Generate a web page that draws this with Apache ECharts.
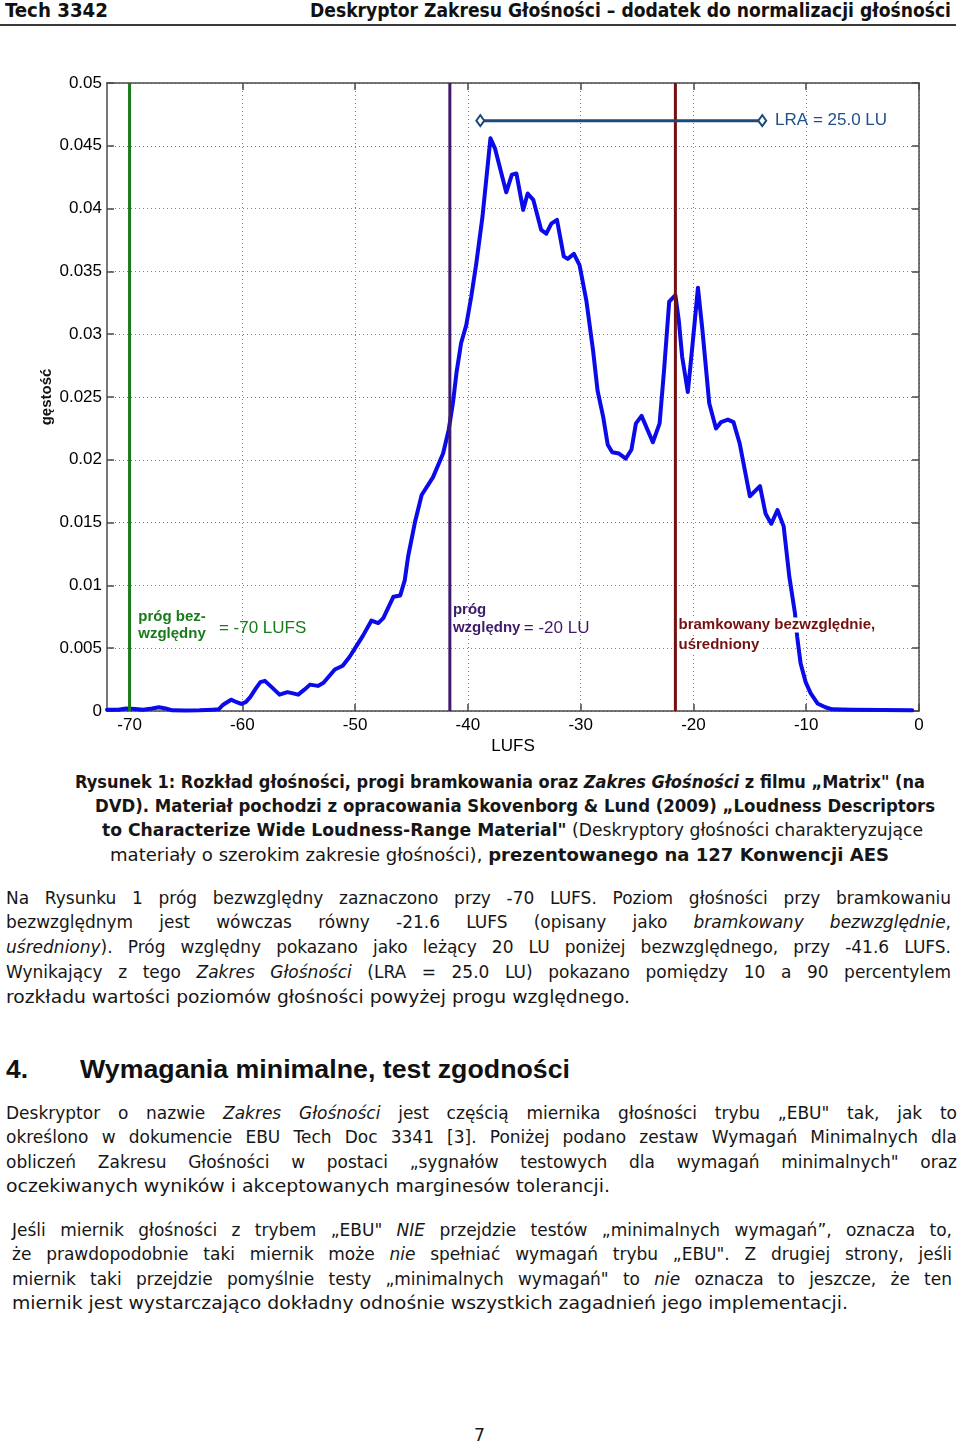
<!DOCTYPE html>
<html lang="pl">
<head>
<meta charset="utf-8">
<title>Tech 3342 – Deskryptor Zakresu Głośności</title>
<script src="https://cdn.jsdelivr.net/npm/echarts@6.0.0/dist/echarts.min.js"></script>
<style>
html,body{margin:0;padding:0;background:#fff;}
body{width:960px;height:1444px;position:relative;overflow:hidden;color:#161616;}
#chart{position:absolute;left:0;top:40px;width:960px;height:730px;}
.ln{position:absolute;white-space:nowrap;line-height:1.25;}
.ln>span{display:inline-block;transform-origin:0 50%;}
.hdr{font-family:"DejaVu Sans Condensed","DejaVu Sans",sans-serif;font-weight:bold;font-size:19px;color:#111;}
.cap{font-family:"DejaVu Sans Condensed","DejaVu Sans",sans-serif;font-size:18px;}
.body{font-family:"DejaVu Sans",sans-serif;font-size:17px;}
.h1{font-family:"Liberation Sans",Arial,sans-serif;font-weight:bold;font-size:26px;color:#111;}
#rule{position:absolute;left:0;top:24px;width:956px;height:2px;background:#3a3a3a;}
</style>
</head>
<body>
<div class="ln hdr" data-l="5" data-r="108" data-y="11" data-m="s"><span>Tech 3342</span></div>
<div class="ln hdr" data-l="310" data-r="951" data-y="11" data-m="s"><span>Deskryptor Zakresu Głośności – dodatek do normalizacji głośności</span></div>
<div id="rule"></div>

<div id="chart"></div>

<div class="ln cap" data-l="75" data-r="925" data-y="782" data-m="s"><span><b>Rysunek 1: Rozkład głośności, progi bramkowania oraz <i>Zakres Głośności</i> z filmu „Matrix" (na</b></span></div>
<div class="ln cap" data-l="95" data-r="935" data-y="806" data-m="s"><span><b>DVD). Materiał pochodzi z opracowania Skovenborg &amp; Lund (2009) „Loudness Descriptors</b></span></div>
<div class="ln cap" data-l="102" data-r="923" data-y="830" data-m="s"><span><b>to Characterize Wide Loudness-Range Material"</b> (Deskryptory głośności charakteryzujące</span></div>
<div class="ln cap" data-l="110" data-r="889" data-y="855" data-m="s"><span>materiały o szerokim zakresie głośności), <b>prezentowanego na 127 Konwencji AES</b></span></div>

<div class="ln body" data-l="6" data-r="951" data-y="899" data-m="j"><span>Na Rysunku 1 próg bezwzględny zaznaczono przy -70 LUFS. Poziom głośności przy bramkowaniu</span></div>
<div class="ln body" data-l="6" data-r="951" data-y="923" data-m="j"><span>bezwzględnym jest wówczas równy -21.6 LUFS (opisany jako <i>bramkowany bezwzględnie</i>,</span></div>
<div class="ln body" data-l="6" data-r="951" data-y="948" data-m="j"><span><i>uśredniony</i>). Próg względny pokazano jako leżący 20 LU poniżej bezwzględnego, przy -41.6 LUFS.</span></div>
<div class="ln body" data-l="6" data-r="951" data-y="973" data-m="j"><span>Wynikający z tego <i>Zakres Głośności</i> (LRA = 25.0 LU) pokazano pomiędzy 10 a 90 percentylem</span></div>
<div class="ln body" data-l="6" data-r="630" data-y="998" data-m="s"><span>rozkładu wartości poziomów głośności powyżej progu względnego.</span></div>

<div class="ln h1" data-l="6" data-r="28" data-y="1069" data-m="s"><span>4.</span></div>
<div class="ln h1" data-l="80" data-r="570" data-y="1069" data-m="s"><span>Wymagania minimalne, test zgodności</span></div>

<div class="ln body" data-l="6" data-r="957" data-y="1114" data-m="j"><span>Deskryptor o nazwie <i>Zakres Głośności</i> jest częścią miernika głośności trybu „EBU" tak, jak to</span></div>
<div class="ln body" data-l="6" data-r="957" data-y="1138" data-m="j"><span>określono w dokumencie EBU Tech Doc 3341 [3]. Poniżej podano zestaw Wymagań Minimalnych dla</span></div>
<div class="ln body" data-l="6" data-r="957" data-y="1163" data-m="j"><span>obliczeń Zakresu Głośności w postaci „sygnałów testowych dla wymagań minimalnych" oraz</span></div>
<div class="ln body" data-l="6" data-r="610" data-y="1187" data-m="s"><span>oczekiwanych wyników i akceptowanych marginesów tolerancji.</span></div>

<div class="ln body" data-l="12" data-r="952" data-y="1231" data-m="j"><span>Jeśli miernik głośności z trybem „EBU" <i>NIE</i> przejdzie testów „minimalnych wymagań”, oznacza to,</span></div>
<div class="ln body" data-l="12" data-r="952" data-y="1255" data-m="j"><span>że prawdopodobnie taki miernik może <i>nie</i> spełniać wymagań trybu „EBU". Z drugiej strony, jeśli</span></div>
<div class="ln body" data-l="12" data-r="952" data-y="1280" data-m="j"><span>miernik taki przejdzie pomyślnie testy „minimalnych wymagań" to <i>nie</i> oznacza to jeszcze, że ten</span></div>
<div class="ln body" data-l="12" data-r="848" data-y="1304" data-m="s"><span>miernik jest wystarczająco dokładny odnośnie wszystkich zagadnień jego implementacji.</span></div>

<div class="ln body" data-l="474" data-r="485" data-y="1436" data-m="s"><span>7</span></div>

<script>
// ---------- data ----------
const xTicks = [-70, -60, -50, -40, -30, -20, -10, 0];
const lufs = [
  -72, -71, -70.3, -69.5, -68.8, -68.0, -67.4, -66.8, -66.2, -65.0, -63.8, -62.6, -62.1,
  -61.7, -61.0, -60.5, -60.1, -59.7, -59.3, -58.8, -58.4, -58.0, -57.4, -56.7, -56.0,
  -55.5, -55.05, -54.5, -54.0, -53.3, -52.8, -51.8, -51.1, -50.5, -50.0, -49.3, -48.55,
  -47.95, -47.5, -46.6, -46.0, -45.6, -45.3, -44.7, -44.1, -43.1, -42.2, -41.7, -41.33,
  -41.0, -40.6, -40.15, -39.7, -39.26, -38.7, -38.0, -37.6, -36.6, -36.1, -35.7, -35.1,
  -34.7, -34.2, -33.5, -33.05, -32.6, -32.1, -31.5, -31.15, -30.6, -30.1, -29.5, -28.9,
  -28.5, -28.0, -27.6, -27.2, -26.6, -26.0, -25.5, -25.1, -24.6, -23.6, -23.0, -22.6,
  -22.15, -21.6, -21.3, -21.0, -20.5, -20.1, -19.6, -19.2, -18.6, -18.0, -17.55, -16.95,
  -16.45, -15.9, -15.0, -14.1, -13.6, -13.1, -12.55, -12.0, -11.5, -11.0, -10.8, -10.5,
  -10.05, -9.6, -9.0, -8.3, -7.7, -5.9, -0.6
];
const density = [
  0.0001, 0.0001, 0.0002, 0.00015, 0.0001, 0.0002, 0.0003, 0.0002, 0.00005, 0.00003, 0.00005, 0.0001, 0.00013,
  0.0005, 0.0009, 0.0007, 0.00056, 0.0007, 0.0011, 0.0018, 0.0023, 0.0024, 0.0019, 0.0013, 0.0015,
  0.0014, 0.0013, 0.0017, 0.0021, 0.0020, 0.00225, 0.0033, 0.0036, 0.0043, 0.0050, 0.0060, 0.0072,
  0.0070, 0.0074, 0.0091, 0.0092, 0.0104, 0.0123, 0.0150, 0.0172, 0.0186, 0.0205, 0.0224, 0.0245,
  0.0270, 0.0293, 0.0307, 0.0330, 0.0356, 0.0394, 0.0456, 0.0448, 0.0413, 0.0427, 0.0428, 0.0399,
  0.0412, 0.0407, 0.0383, 0.0380, 0.0388, 0.0391, 0.0362, 0.0360, 0.0364, 0.0355, 0.0327, 0.0287,
  0.0255, 0.0234, 0.0212, 0.0206, 0.0205, 0.0201, 0.0208, 0.0229, 0.0235, 0.0214, 0.0229, 0.0272,
  0.0326, 0.0331, 0.0311, 0.0282, 0.0254, 0.0290, 0.0337, 0.0303, 0.0245, 0.0225, 0.0230, 0.0232,
  0.0230, 0.0213, 0.0171, 0.0179, 0.0157, 0.0149, 0.0160, 0.0147, 0.0107, 0.0078, 0.0059, 0.0038,
  0.0023, 0.0014, 0.0006, 0.0003, 0.00013, 0.0001, 0.00005
];
const absThreshold = -70;      // LUFS
const relThreshold = -41.6;    // LUFS
const gatedMean = -21.6;       // LUFS
const lraLow = -38.9;          // 10th percentile
const lraHigh = -13.9;         // 90th percentile
const lraLevel = 0.047;
const lraText = 'LRA = 25.0 LU';
const xMin = -72, xMax = 0, yMin = 0, yMax = 0.05, yStep = 0.005;

// ---------- chart ----------
const FONT = '"Liberation Sans", Arial, sans-serif';
const AX = '#4a4a4a';
const GREEN = '#1a7a1a', PURPLE = '#3f1a6a', RED = '#741010', LRA = '#1d4a7a', CURVE = '#0b0bea';

const chart = echarts.init(document.getElementById('chart'), null, {renderer: 'canvas'});

const boxAxisX = (pos) => ({
  type: 'value', min: xMin, max: xMax, position: pos,
  axisLine: {show: true, onZero: false, lineStyle: {color: AX, width: 1.5}},
  axisTick: {show: true, inside: true, length: 7, customValues: xTicks, lineStyle: {color: AX, width: 1.5}},
  axisLabel: {show: false},
  splitLine: {show: false}
});
const boxAxisY = (pos) => ({
  type: 'value', min: yMin, max: yMax, interval: yStep, position: pos,
  axisLine: {show: true, onZero: false, lineStyle: {color: AX, width: 1.5}},
  axisTick: {show: true, inside: true, length: 7, lineStyle: {color: AX, width: 1.5}},
  axisLabel: {show: false},
  splitLine: {show: false}
});

const vline = (x, color) => ({
  type: 'line', data: [[x, yMin], [x, yMax]], symbol: 'none', silent: true,
  lineStyle: {color: color, width: 3}, itemStyle: {color: color}, z: 4
});

const bold = (c, lh, bg) => Object.assign({fontFamily: FONT, fontWeight: 'bold', fontSize: 15, color: c, lineHeight: lh},
  bg ? {backgroundColor: bg, padding: [0, 3, 0, 0]} : {});
const norm = (c, lh) => ({fontFamily: FONT, fontSize: 17, color: c, lineHeight: lh});

const annotations = [
  {value: [absThreshold + 0.75, 0.0068],
   label: {formatter: '{b|próg bez-}\n{b|względny}', rich: {b: bold(GREEN, 17)}}},
  {value: [absThreshold + 7.9, 0.0066],
   label: {formatter: '{n|= -70 LUFS}', rich: {n: norm(GREEN, 18)}}},
  {value: [relThreshold + 0.25, 0.0073],
   label: {formatter: '{b|próg}\n{b|względny} {n|= -20 LU}', rich: {b: bold(PURPLE, 18), n: norm(PURPLE, 18)}}},
  {value: [gatedMean + 0.25, 0.00605],
   label: {formatter: '{b|bramkowany bezwzględnie,}\n{b|uśredniony}', rich: {b: bold(RED, 20, '#ffffff')}}}
];

const option = {
  animation: false,
  backgroundColor: 'transparent',
  grid: {left: 107, top: 43, width: 812, height: 628, show: false},
  xAxis: [
    {
      type: 'value', min: xMin, max: xMax, position: 'bottom',
      axisLine: {show: true, onZero: false, lineStyle: {color: AX, width: 1.5}},
      axisTick: {show: true, inside: true, length: 7, customValues: xTicks, lineStyle: {color: AX, width: 1.5}},
      axisLabel: {customValues: xTicks, color: '#000', fontSize: 17, fontFamily: FONT, margin: 6},
      splitLine: {show: true, lineStyle: {color: '#808080', width: 1, type: [1, 3]}},
      name: 'LUFS', nameLocation: 'middle', nameGap: 27, nameMoveOverlap: false,
      nameTextStyle: {color: '#000', fontSize: 17, fontFamily: FONT}
    },
    boxAxisX('top')
  ],
  yAxis: [
    {
      type: 'value', min: yMin, max: yMax, interval: yStep, position: 'left',
      axisLine: {show: true, onZero: false, lineStyle: {color: AX, width: 1.5}},
      axisTick: {show: true, inside: true, length: 7, lineStyle: {color: AX, width: 1.5}},
      axisLabel: {color: '#000', fontSize: 17, fontFamily: FONT, margin: 5},
      splitLine: {show: true, lineStyle: {color: '#808080', width: 1, type: [1, 3]}},
      name: 'gęstość', nameLocation: 'middle', nameRotate: 90, nameGap: 53, nameMoveOverlap: false,
      nameTextStyle: {color: '#111', fontSize: 15, fontWeight: 'bold', fontFamily: FONT}
    },
    boxAxisY('right')
  ],
  series: [
    {
      type: 'line', data: lufs.map((x, i) => [x, density[i]]), symbol: 'none', silent: true,
      lineStyle: {color: CURVE, width: 4, join: 'round', cap: 'round'}, itemStyle: {color: CURVE}, z: 3
    },
    vline(absThreshold, GREEN),
    vline(relThreshold, PURPLE),
    vline(gatedMean, RED),
    {
      type: 'line', silent: true, z: 5,
      data: [
        {value: [lraLow, lraLevel]},
        {value: [lraHigh, lraLevel],
         label: {show: true, position: 'right', distance: 8, formatter: lraText,
                 color: '#1f4f8c', fontSize: 17, fontFamily: FONT}}
      ],
      symbol: 'diamond', symbolSize: [8, 11], showSymbol: true,
      lineStyle: {color: LRA, width: 3},
      itemStyle: {color: '#ffffff', borderColor: LRA, borderWidth: 2}
    },
    {
      type: 'scatter', silent: true, z: 6, symbol: 'circle', symbolSize: 0.5,
      itemStyle: {color: '#ffffff', opacity: 1},
      label: {show: true, position: 'right', distance: 0, opacity: 1},
      data: annotations
    }
  ]
};
chart.setOption(option);

// ---------- text line layout (fit each line to its measured extent) ----------
function layoutLines() {
  document.querySelectorAll('.ln').forEach(function (el) {
    const L = +el.dataset.l, R = +el.dataset.r, Y = +el.dataset.y, mode = el.dataset.m;
    const sp = el.firstElementChild;
    sp.style.transform = 'none';
    sp.style.wordSpacing = '0px';
    el.style.left = L + 'px';
    const w = sp.getBoundingClientRect().width;
    const T = R - L;
    if (mode === 'j') {
      const n = (sp.textContent.match(/ /g) || []).length;
      if (w < T && n > 0) sp.style.wordSpacing = ((T - w) / n) + 'px';
      else sp.style.transform = 'scaleX(' + (T / w) + ')';
    } else {
      sp.style.transform = 'scaleX(' + (T / w) + ')';
    }
    const h = el.getBoundingClientRect().height;
    el.style.top = (Y - h / 2) + 'px';
  });
}
layoutLines();
if (document.fonts && document.fonts.ready) document.fonts.ready.then(layoutLines);
</script>
</body>
</html>
